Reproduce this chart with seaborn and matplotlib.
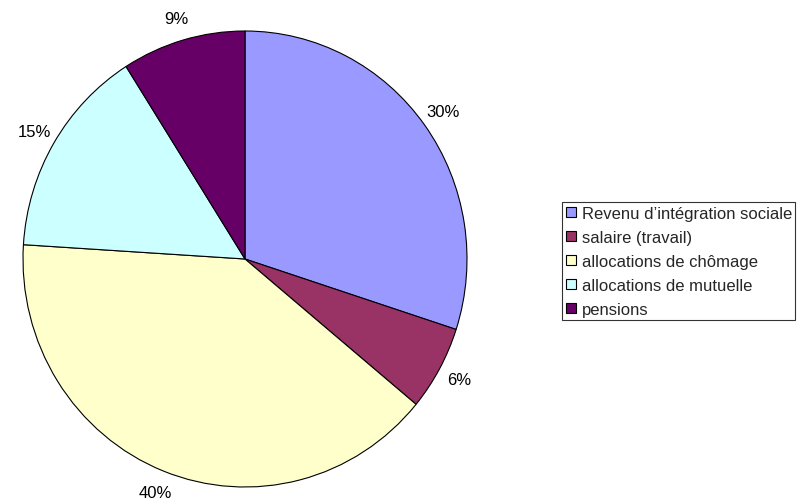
import matplotlib
matplotlib.use("Agg")
import matplotlib.pyplot as plt
import seaborn as sns
from matplotlib.patches import Patch

sns.set_style("white")
plt.rcParams["font.family"] = ["Liberation Sans", "DejaVu Sans"]

# Income sources and their shares (%)
categories = [
    "Revenu d\u2019intégration sociale",
    "salaire (travail)",
    "allocations de chômage",
    "allocations de mutuelle",
    "pensions",
]
shares = [30, 6, 40, 15, 9]
colors = ["#9999FF", "#993366", "#FFFFCC", "#CCFFFF", "#660066"]

W, H = 800, 502
fig = plt.figure(figsize=(W / 100, H / 100), dpi=100)

# Pie axes: centre (245, 260) px, radii 222 x 228 px
cx, cy, rx, ry = 245, 260, 222, 228
ax = fig.add_axes([(cx - rx) / W, 1 - (cy + ry) / H, 2 * rx / W, 2 * ry / H])
ax.pie(
    shares,
    colors=colors,
    startangle=90,
    counterclock=False,
    radius=1,
    autopct="%1.0f%%",
    pctdistance=1.1,
    wedgeprops=dict(edgecolor="black", linewidth=0.8),
    textprops=dict(fontsize=12, color="black"),
)
ax.set_aspect("auto")
ax.set_xlim(-1, 1)
ax.set_ylim(-1, 1)
for t in ax.texts:
    t.set_clip_on(False)

handles = [Patch(facecolor=c, edgecolor="black", linewidth=0.8) for c in colors]
leg = fig.legend(
    handles,
    categories,
    loc="upper left",
    bbox_to_anchor=(562 / W, 1 - 203 / H),
    bbox_transform=fig.transFigure,
    fontsize=12,
    frameon=True,
    fancybox=False,
    shadow=False,
    handlelength=0.6,
    handleheight=0.6,
    handletextpad=0.35,
    labelspacing=0.54,
    borderpad=0.22,
    borderaxespad=0,
)
leg.get_frame().set_edgecolor("black")
leg.get_frame().set_linewidth(0.8)

fig.savefig("out.png", dpi=100, facecolor="white")
